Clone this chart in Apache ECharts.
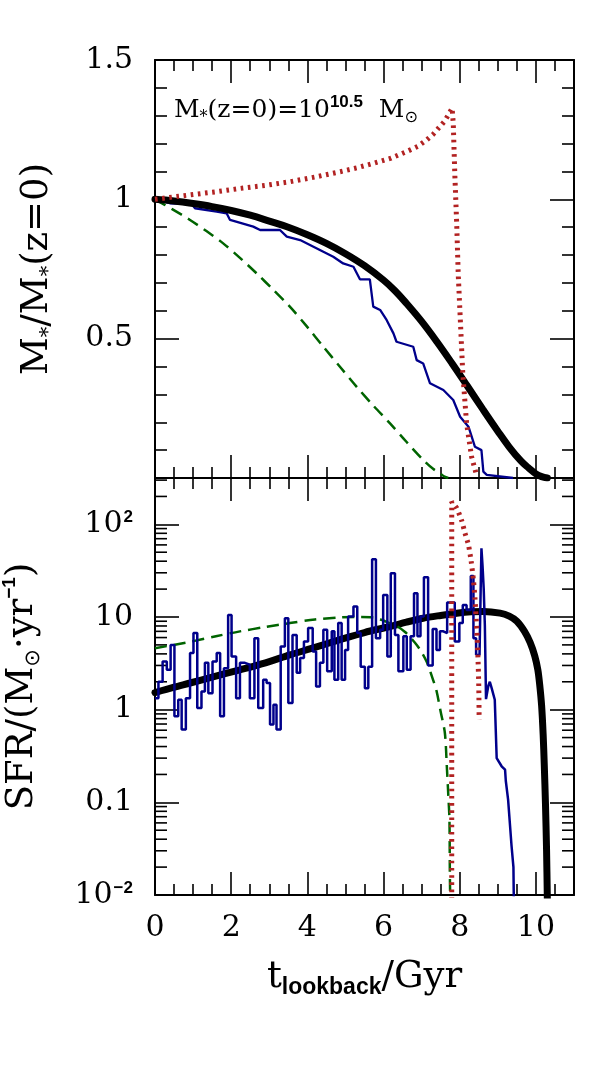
<!DOCTYPE html>
<html><head><meta charset="utf-8">
<script src="https://cdn.jsdelivr.net/npm/echarts@6/dist/echarts.min.js"></script>
<style>html,body{margin:0;padding:0;background:#fff}#c{width:598px;height:1069px}</style>
</head><body><div id="c"></div>
<script>
// ---------- DATA ----------
// Top panel: M*(t)/M*(z=0)  [t_lookback (Gyr), ratio]
const massBlack = [[0,1],[0.5,0.994],[1,0.985],[1.5,0.974],[2,0.96],[2.5,0.943],[3,0.922],[3.5,0.9],[4,0.873],[4.5,0.842],[5,0.805],[5.5,0.762],[6,0.71],[6.3,0.672],[6.6,0.627],[7.0,0.562],[7.4,0.489],[7.8,0.411],[8.2,0.33],[8.6,0.248],[9.0,0.168],[9.3,0.111],[9.6,0.062],[9.8,0.037],[10.0,0.015],[10.15,0.005],[10.3,0.0]];
const massGreen = [[0,1],[0.45,0.965],[0.92,0.926],[1.35,0.886],[1.79,0.842],[2.23,0.79],[2.67,0.734],[3.1,0.676],[3.54,0.615],[3.98,0.545],[4.42,0.471],[4.85,0.4],[5.29,0.328],[5.73,0.26],[6.17,0.196],[6.6,0.13],[7.04,0.065],[7.3,0.033],[7.48,0.017],[7.6,0.005],[7.7,0.0]];
const massRed = [[0,1],[0.45,1.008],[0.92,1.016],[1.6,1.027],[2.23,1.039],[2.9,1.05],[3.54,1.063],[4.2,1.08],[4.86,1.099],[5.3,1.113],[5.73,1.129],[6.2,1.148],[6.6,1.171],[6.9,1.19],[7.13,1.213],[7.3,1.233],[7.48,1.261],[7.6,1.28],[7.7,1.303],[7.8,1.327],[7.83,1.273],[7.87,1.093],[7.92,0.914],[7.96,0.734],[8.02,0.555],[8.08,0.376],[8.18,0.196],[8.31,0.077],[8.44,0.011]];
const massBlue = [[0,1.0],[0.39,0.986],[0.96,0.983],[1.05,0.968],[1.62,0.956],[1.88,0.95],[1.97,0.926],[2.58,0.902],[2.76,0.89],[3.28,0.89],[3.46,0.866],[3.81,0.854],[4.16,0.83],[4.42,0.812],[4.68,0.794],[4.94,0.77],[5.21,0.758],[5.38,0.713],[5.64,0.713],[5.73,0.615],[5.91,0.603],[6.08,0.567],[6.26,0.519],[6.34,0.489],[6.78,0.471],[6.87,0.423],[7.04,0.411],[7.22,0.34],[7.57,0.316],[7.83,0.28],[8.01,0.22],[8.23,0.184],[8.4,0.112],[8.57,0.1],[8.62,0.023],[8.71,0.011],[9.4,0.0]];

// Bottom panel: SFR (Msun/yr)
const sfrBlack = [[0,1.53],[0.5,1.75],[0.92,1.94],[1.5,2.25],[2.23,2.69],[2.9,3.2],[3.54,3.9],[4.2,4.7],[4.86,5.7],[5.5,6.8],[6.17,7.9],[6.6,8.8],[7.04,9.7],[7.5,10.4],[7.92,11],[8.3,11.4],[8.62,11.5],[9.06,11.0],[9.3,10.2],[9.5,9.0],[9.7,7.0],[9.85,5.3],[9.97,3.8],[10.05,2.7],[10.1,1.85],[10.15,1.1],[10.19,0.54],[10.22,0.25],[10.25,0.1],[10.28,0.03],[10.3,0.009]];
const sfrGreen = [[0,4.6],[0.92,5.4],[1.6,6.2],[2.23,7.0],[2.9,7.8],[3.54,8.6],[4.2,9.4],[4.86,9.9],[5.3,10.0],[5.73,9.9],[6.04,9.0],[6.34,8.0],[6.58,6.8],[6.82,5.3],[6.98,4.3],[7.13,3.3],[7.3,2.1],[7.39,1.6],[7.5,0.95],[7.61,0.56],[7.66,0.25],[7.7,0.12],[7.73,0.065],[7.74,0.019],[7.75,0.009]];
const sfrRed = [[7.79,0.009],[7.79,175],[7.92,150],[8.05,110],[8.14,80],[8.23,60],[8.3,40],[8.36,25],[8.4,16],[8.45,7],[8.48,3.5],[8.5,1.8],[8.51,0.78]];
const sfrBlueBinX = [0,0.09,0.2,0.31,0.41,0.51,0.61,0.7,0.81,0.92,1.01,1.11,1.22,1.31,1.4,1.51,1.62,1.71,1.81,1.92,2.01,2.13,2.23,2.36,2.49,2.61,2.71,2.84,2.93,3.02,3.11,3.19,3.3,3.41,3.5,3.61,3.72,3.81,3.91,4.02,4.14,4.23,4.33,4.42,4.52,4.64,4.71,4.81,4.9,4.99,5.07,5.21,5.31,5.4,5.51,5.6,5.7,5.8,5.91,5.99,6.1,6.19,6.3,6.39,6.52,6.61,6.71,6.8,6.89,6.97,7.06,7.17,7.29,7.39,7.48,7.57,7.67,7.87,7.99,8.08,8.18,8.29,8.36,8.43];
const sfrBlueBinY = [1.33,2.0,3.3,2.7,5.0,0.85,1.28,0.61,1.33,4.1,6.7,1.04,1.57,3.2,1.5,3.3,4.1,0.85,2.8,10.5,3.75,1.33,3.2,3.05,1.33,5.9,1.04,2.1,1.94,0.69,1.13,0.61,4.8,9.7,1.18,6.4,2.5,3.6,5.45,7.6,4.25,1.78,3.2,7.3,2.6,7.0,2.1,8.6,2.1,4.4,10.1,13.0,6.7,2.9,1.7,2.9,42,5.9,7.3,17.3,3.75,29.6,6.4,2.6,6.2,2.7,6.2,18,6.2,10.1,26.9,3.0,7.4,4.4,7.0,6.7,14.3,5.45,8.6,13.5,11.9,27.7,5.9,3.9];
const sfrBlueTail = [[8.43,3.9],[8.52,3.9],[8.55,20],[8.57,55],[8.6,35],[8.63,20],[8.66,8],[8.69,1.3],[8.75,1.8],[8.79,2.0],[8.84,1.7],[8.92,1.28],[8.97,0.3],[9.1,0.245],[9.19,0.225],[9.21,0.17],[9.27,0.107],[9.36,0.034],[9.41,0.02],[9.42,0.009]];

const xTicksMax = 11;
const massTickLabels = {0.5:'0.5', 1:'1', 1.5:'1.5'};
const sfrTickLabels = {'-2':'10{s|−2}', '-1':'0.1', '0':'1', '1':'10', '2':'10{s|2}'};
const logMinorTicks = [0.02,0.03,0.04,0.05,0.06,0.07,0.08,0.09,0.2,0.3,0.4,0.5,0.6,0.7,0.8,0.9,2,3,4,5,6,7,8,9,20,30,40,50,60,70,80,90,200,300];

// ---------- STYLES ----------
const SERIF = 'DejaVu Serif';
const SANS = 'Liberation Sans';
const BLUE = '#00008b', GREEN = '#006400', RED = '#b22222';
const tickStyle = {color:'#000', width:1.6};

function xAxis(grid, pos, withLabels) {
  return {
    type:'value', gridIndex:grid, position:pos, min:0, max:xTicksMax, interval:2,
    axisLine:{show:true, onZero:false, lineStyle:{color:'#000', width:2}},
    axisTick:{show:true, inside:true, length:23, lineStyle:tickStyle},
    minorTick:{show:true, splitNumber:4, length:11, lineStyle:tickStyle},
    splitLine:{show:false},
    axisLabel:{show:withLabels, margin:18, fontFamily:SERIF, fontSize:30, color:'#000',
      formatter:v => (v > 10.5 ? '' : String(v))}
  };
}

const nameRich = {
  m:{fontFamily:SERIF, fontSize:37, color:'#000', lineHeight:44},
  st:{fontFamily:SERIF, fontSize:21, color:'#000', lineHeight:16, verticalAlign:'bottom'},
  sun:{fontFamily:'DejaVu Sans', fontSize:21, color:'#000', lineHeight:14, verticalAlign:'bottom'},
  sub:{fontFamily:SANS, fontWeight:'bold', fontSize:23, color:'#000', lineHeight:14, verticalAlign:'bottom'},
  sup:{fontFamily:SANS, fontWeight:'bold', fontSize:19, color:'#000', lineHeight:18, verticalAlign:'top'}
};

const option = {
  backgroundColor:'#fff',
  animation:false,
  grid:[
    {left:155, top:60, width:419, height:418, containLabel:false, outerBoundsMode:'none'},
    {left:155, top:478, width:419, height:417, containLabel:false, outerBoundsMode:'none'}
  ],
  xAxis:[
    xAxis(0,'bottom',false),
    xAxis(0,'top',false),
    Object.assign(xAxis(1,'bottom',true), {
      name:'{m|t}{sub|lookback}{m|/Gyr}', nameLocation:'middle', nameGap:60,
      nameTextStyle:{rich:nameRich}
    }),
    xAxis(1,'top',false)
  ],
  yAxis:[
    {type:'value', gridIndex:0, position:'left', min:0, max:1.5, interval:0.5,
     axisLine:{show:true, onZero:false, lineStyle:{color:'#000', width:2}},
     axisTick:{show:true, inside:true, length:24, lineStyle:tickStyle},
     minorTick:{show:true, splitNumber:5, length:12, lineStyle:tickStyle},
     splitLine:{show:false},
     axisLabel:{margin:22, fontFamily:SERIF, fontSize:30, color:'#000',
       formatter:v => massTickLabels[v] || ''},
     name:'{m|M}{st|*}{m|/M}{st|*}{m|(z=0)}', nameLocation:'middle', nameGap:96, nameRotate:90,
     nameTextStyle:{rich:nameRich}},
    {type:'value', gridIndex:0, position:'right', min:0, max:1.5, interval:0.5,
     axisLine:{show:true, onZero:false, lineStyle:{color:'#000', width:2}},
     axisTick:{show:true, inside:true, length:24, lineStyle:tickStyle},
     minorTick:{show:true, splitNumber:5, length:12, lineStyle:tickStyle},
     splitLine:{show:false}, axisLabel:{show:false}},
    {type:'log', logBase:10, gridIndex:1, position:'left', min:0.01, max:316.227766,
     axisLine:{show:true, onZero:false, lineStyle:{color:'#000', width:2}},
     axisTick:{show:true, inside:true, length:24, lineStyle:tickStyle},
     minorTick:{show:false}, splitLine:{show:false},
     axisLabel:{margin:22, fontFamily:SERIF, fontSize:30, color:'#000',
       rich:{s:{fontFamily:SANS, fontWeight:'bold', fontSize:17, color:'#000', padding:[0,0,14,1]}},
       formatter:v => { const e = Math.round(Math.log10(v)); return Math.abs(Math.log10(v)-e) < 1e-6 ? (sfrTickLabels[String(e)] || '') : ''; }},
     name:'{m|SFR/(M}{sun|⊙}{m|·yr}{sup|−1}{m|)}', nameLocation:'middle', nameGap:111, nameRotate:90,
     nameTextStyle:{rich:nameRich}},
    {type:'log', logBase:10, gridIndex:1, position:'right', min:0.01, max:316.227766,
     axisLine:{show:true, onZero:false, lineStyle:{color:'#000', width:2}},
     axisTick:{show:true, inside:true, length:24, lineStyle:tickStyle},
     minorTick:{show:false}, splitLine:{show:false}, axisLabel:{show:false}}
  ],
  graphic:[
    {type:'text', left:174, top:94, silent:true,
     style:{text:'{m|M}{st|*}{m|(z=0)=10}{sup|10.5}{m|  M}{sun|⊙}',
       rich:{
         m:{fontFamily:SERIF, fontSize:25, color:'#000', lineHeight:32},
         st:{fontFamily:SERIF, fontSize:16, color:'#000', lineHeight:12, verticalAlign:'bottom'},
         sun:{fontFamily:'DejaVu Sans', fontSize:16, color:'#000', lineHeight:10, verticalAlign:'bottom'},
         sup:{fontFamily:SANS, fontWeight:'bold', fontSize:17, color:'#000', lineHeight:20, verticalAlign:'top'}
       }}}
  ],
  series:[
    // minor ticks for log axis (left & right)
    {type:'custom', xAxisIndex:2, yAxisIndex:2, silent:true, z:1,
     data:logMinorTicks.map(v => [0, v]),
     renderItem:(params, api) => {
       const v = api.value(1);
       const a = api.coord([0, v]);
       const b = api.coord([xTicksMax, v]);
       return {type:'group', children:[
         {type:'line', shape:{x1:a[0], y1:a[1], x2:a[0]+12, y2:a[1]}, style:{stroke:'#000', lineWidth:1.6}},
         {type:'line', shape:{x1:b[0], y1:b[1], x2:b[0]-12, y2:b[1]}, style:{stroke:'#000', lineWidth:1.6}}
       ]};
     }},
    // top panel
    {type:'line', xAxisIndex:0, yAxisIndex:0, data:massBlue, symbol:'none', lineStyle:{color:BLUE, width:2.3}, z:2},
    {type:'line', xAxisIndex:0, yAxisIndex:0, data:massGreen, symbol:'none', smooth:0.3, lineStyle:{color:GREEN, width:2.5, type:[12,7]}, z:2},
    {type:'line', xAxisIndex:0, yAxisIndex:0, data:massBlack, symbol:'none', smooth:0.4, lineStyle:{color:'#000', width:7, cap:'round'}, z:3},
    {type:'line', xAxisIndex:0, yAxisIndex:0, data:massRed, symbol:'none', lineStyle:{color:RED, width:5, type:[2.6,4.6], cap:'butt'}, z:4},
    // bottom panel
    {type:'line', xAxisIndex:2, yAxisIndex:2, data:sfrBlack, symbol:'none', smooth:0.3, lineStyle:{color:'#000', width:7, cap:'round'}, z:2},
    {type:'line', xAxisIndex:2, yAxisIndex:2, data:sfrGreen, symbol:'none', smooth:0.3, lineStyle:{color:GREEN, width:2.5, type:[12,7]}, z:2},
    {type:'line', xAxisIndex:2, yAxisIndex:2, data:sfrBlueBinX.map((x,i) => [x, sfrBlueBinY[i]]), step:'end', symbol:'none', lineStyle:{color:BLUE, width:2.5}, z:3},
    {type:'line', xAxisIndex:2, yAxisIndex:2, data:sfrBlueTail, symbol:'none', lineStyle:{color:BLUE, width:2.5}, z:3},
    {type:'line', xAxisIndex:2, yAxisIndex:2, data:sfrRed, symbol:'none', smooth:0.2, lineStyle:{color:RED, width:5, type:[2.6,4.6], cap:'butt'}, z:4}
  ]
};
const chart = echarts.init(document.getElementById('c'));
chart.setOption(option);
</script>
</body></html>
